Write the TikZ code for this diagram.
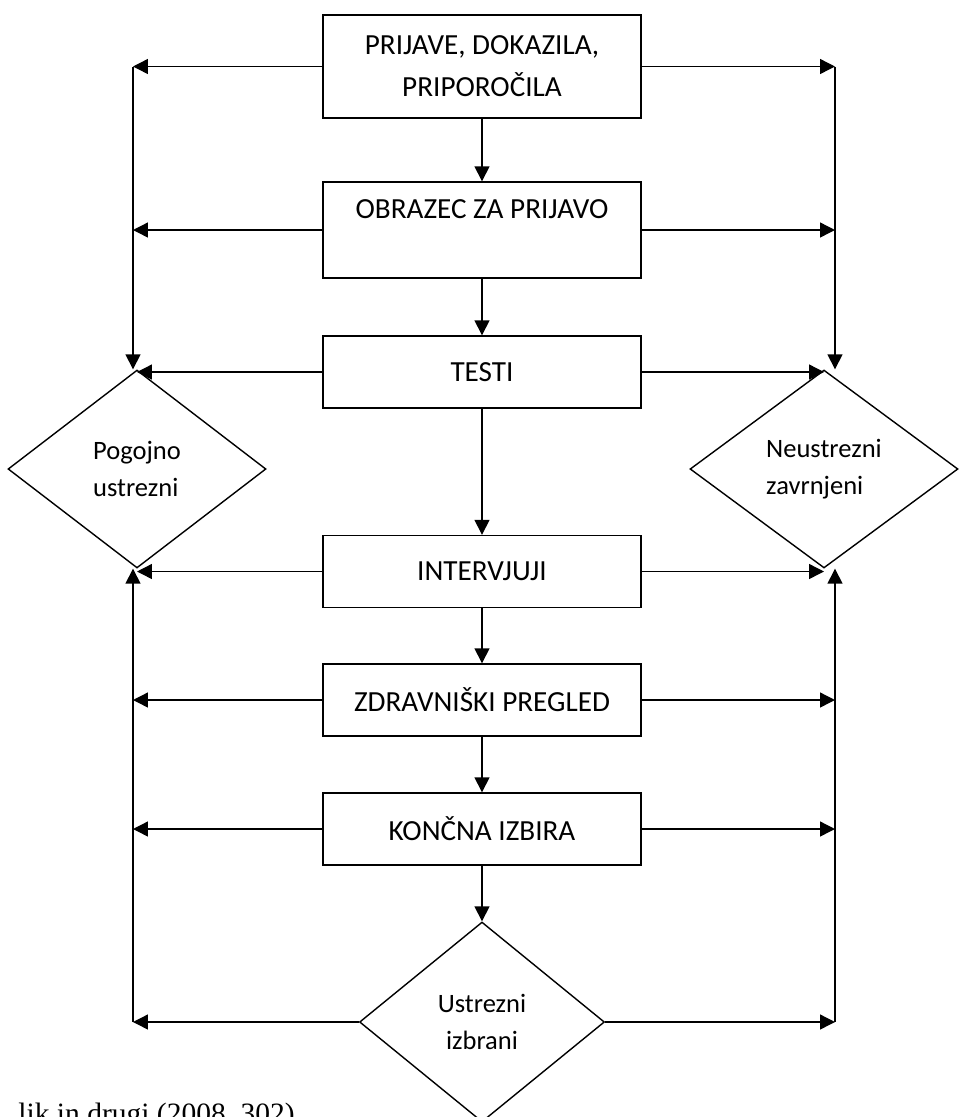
\documentclass[tikz,border=0pt]{standalone}
\usepackage{fontspec}
\setmainfont{Carlito}
\newfontfamily\virfont{Liberation Serif}
\usetikzlibrary{shapes.geometric,arrows.meta}

\tikzset{
  stage/.style={draw, line width=0.8pt, minimum width=6.36cm, minimum height=1.44cm,
    align=center, inner sep=0pt, font=\fontsize{16.6}{23.8}\selectfont},
  choice/.style={draw, diamond, line width=0.8pt, minimum width=5.16cm, minimum height=3.96cm,
    align=left, inner sep=0pt, font=\fontsize{15.1}{21}\selectfont},
  arr/.style={line width=0.8pt, -{Triangle[length=0.3cm,width=0.3cm]}},
}

\begin{document}
\begin{tikzpicture}[x=0.02cm, y=-0.02cm]
\useasboundingbox (0,0) rectangle (958,1117);

% stages
\node[stage, minimum height=2.06cm] (prijave) at (482,66.5) {PRIJAVE, DOKAZILA,\\PRIPOROČILA};
\node[stage, minimum height=1.92cm] (obrazec) at (482,230) {OBRAZEC ZA PRIJAVO\\\mbox{}};
\node[stage] (testi) at (482,372) {TESTI};
\node[stage] (interv) at (482,571.5) {INTERVJUJI};
\node[stage] (zdrav) at (482,700) {ZDRAVNIŠKI PREGLED};
\node[stage] (koncna) at (482,829) {KONČNA IZBIRA};

% decisions
\node[choice] (pog) at (137,469) {Pogojno\\ustrezni};
\node[choice, minimum width=5.36cm] (neu) at (824,469) {Neustrezni\\zavrnjeni};
\node[choice, minimum width=4.9cm, minimum height=4cm, align=center] (ustr) at (482,1022) {Ustrezni\\izbrani};

% side columns
\coordinate (L) at (133,0);
\coordinate (R) at (835,0);

% main flow
\foreach \a/\b in {prijave/obrazec, obrazec/testi, testi/interv, interv/zdrav, zdrav/koncna, koncna/ustr}
  \draw[arr] (\a) -- (\b);

% to the columns
\foreach \s in {prijave, obrazec, zdrav, koncna}{
  \draw[arr] (\s.west) -- (\s.west -| L);
  \draw[arr] (\s.east) -- (\s.east -| R);
}
\draw[arr] (ustr.west) -- (ustr.west -| L);
\draw[arr] (ustr.east) -- (ustr.east -| R);

% into the diamonds
\draw[arr] (prijave.west -| L) -- (pog.north -| L);
\draw[arr] (prijave.east -| R) -- (neu.north -| R);
\draw[arr] (ustr.west -| L) -- (pog.south -| L);
\draw[arr] (ustr.east -| R) -- (neu.south -| R);
\draw[arr] (testi.west) -- (testi.west -| pog.north);
\draw[arr] (testi.east) -- (testi.east -| neu.north);
\draw[arr] (interv.west) -- (interv.west -| pog.south);
\draw[arr] (interv.east) -- (interv.east -| neu.south);

% source
\node[font=\virfont\fontsize{16.8}{20}\selectfont, anchor=base east, inner sep=0pt] (vir) at (295,1123) {lik in drugi (2008, 302)};
\end{tikzpicture}
\end{document}
